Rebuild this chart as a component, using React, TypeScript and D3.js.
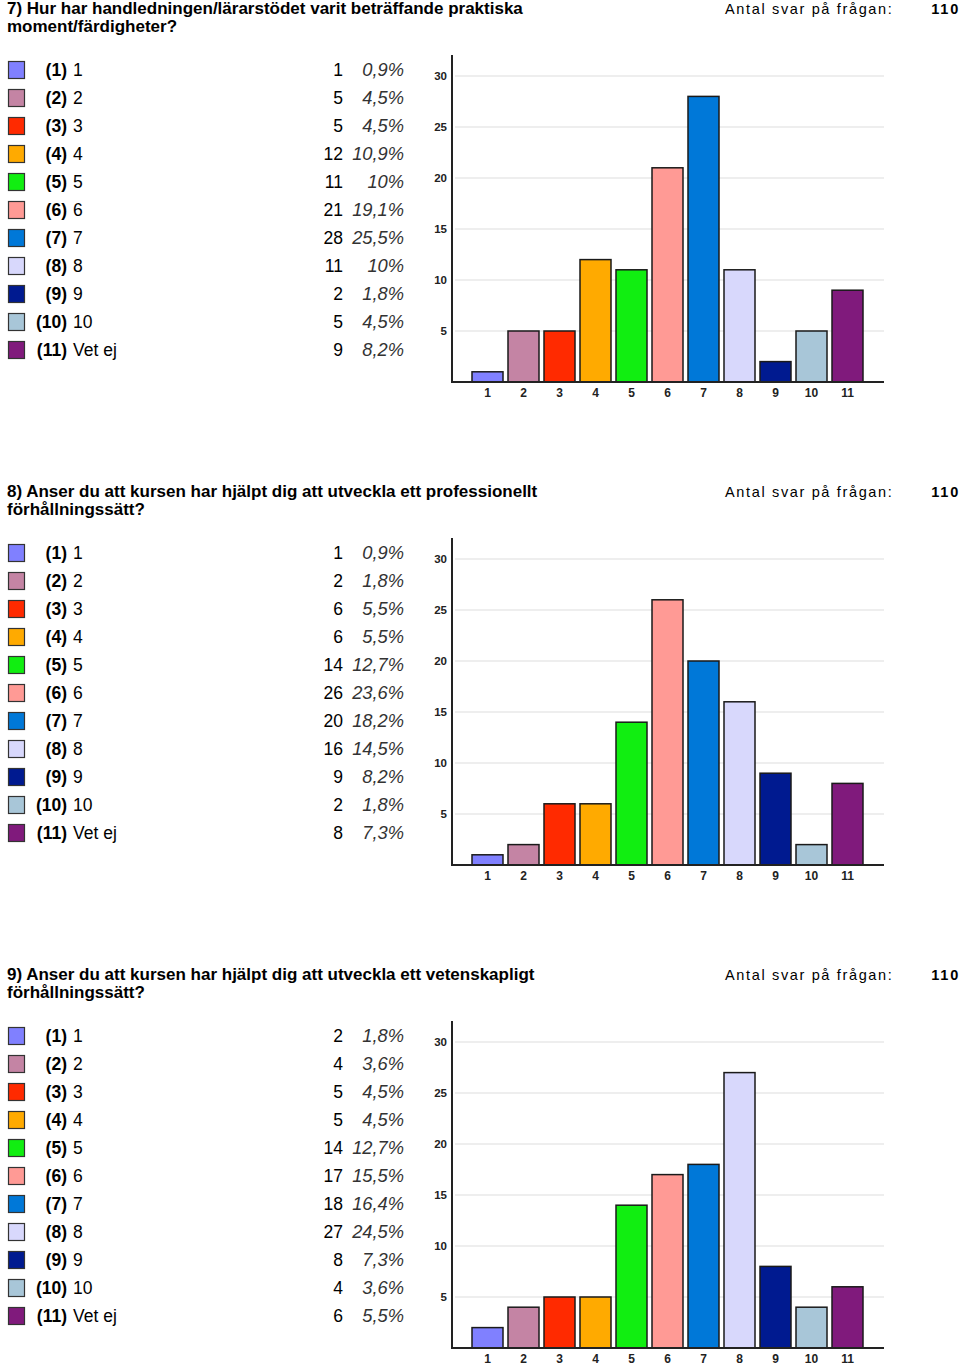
import React from "react";
import * as d3 from "d3";

const categories = ["1", "2", "3", "4", "5", "6", "7", "8", "9", "10", "11"];
const legendLabels = ["1", "2", "3", "4", "5", "6", "7", "8", "9", "10", "Vet ej"];
const colors = ["#8080ff", "#c484a4", "#ff2a00", "#ffaa00", "#11ee11", "#ff9a95", "#0078d8", "#d8d8fc", "#001a90", "#a8c6d8", "#801a7c"];
const yTicks = [5, 10, 15, 20, 25, 30];

const q7Title = ["7) Hur har handledningen/lärarstödet varit beträffande praktiska", "moment/färdigheter?"];
const q7Counts = [1, 5, 5, 12, 11, 21, 28, 11, 2, 5, 9];
const q7Pcts = ["0,9%", "4,5%", "4,5%", "10,9%", "10%", "19,1%", "25,5%", "10%", "1,8%", "4,5%", "8,2%"];

const q8Title = ["8) Anser du att kursen har hjälpt dig att utveckla ett professionellt", "förhållningssätt?"];
const q8Counts = [1, 2, 6, 6, 14, 26, 20, 16, 9, 2, 8];
const q8Pcts = ["0,9%", "1,8%", "5,5%", "5,5%", "12,7%", "23,6%", "18,2%", "14,5%", "8,2%", "1,8%", "7,3%"];

const q9Title = ["9) Anser du att kursen har hjälpt dig att utveckla ett vetenskapligt", "förhållningssätt?"];
const q9Counts = [2, 4, 5, 5, 14, 17, 18, 27, 8, 4, 6];
const q9Pcts = ["1,8%", "3,6%", "4,5%", "4,5%", "12,7%", "15,5%", "16,4%", "24,5%", "7,3%", "3,6%", "5,5%"];

const totalAnswers = "110";

const questions = [
  { title: q7Title, counts: q7Counts, pcts: q7Pcts },
  { title: q8Title, counts: q8Counts, pcts: q8Pcts },
  { title: q9Title, counts: q9Counts, pcts: q9Pcts },
];

const SANS = "'Liberation Sans', Arial, Helvetica, sans-serif";
const NARROW = "'Liberation Sans Narrow', 'Liberation Sans', Arial, sans-serif";

function Block({ q, offset }: { q: typeof questions[0]; offset: number }) {
  const x = d3.scaleBand<string>().domain(categories).range([472, 863]).paddingInner(5 / 36).paddingOuter(0);
  const y = d3.scaleLinear().domain([0, 30]).range([382, 76]);
  return (
    <g transform={`translate(0,${offset})`}>
      <text x={7} y={14} fontFamily={NARROW} fontWeight="bold" fontSize={17}>{q.title[0]}</text>
      <text x={7} y={32} fontFamily={NARROW} fontWeight="bold" fontSize={17}>{q.title[1]}</text>
      <text x={725} y={14} fontFamily={SANS} fontSize={14.5} letterSpacing={1.65}>Antal svar på frågan:</text>
      <text x={960} y={14} fontFamily={SANS} fontSize={14.5} fontWeight="bold" letterSpacing={1.8} textAnchor="end">{totalAnswers}</text>
      {legendLabels.map((lab, i) => {
        const cy = 70 + i * 28;
        return (
          <g key={i}>
            <rect x={8.5} y={cy - 8.5} width={16} height={17} fill={colors[i]} stroke="#333" strokeWidth={1.2} />
            <text x={67} y={cy + 6} fontFamily={SANS} fontSize={17.5} textAnchor="end" fontWeight="bold">({i + 1})</text>
            <text x={73} y={cy + 6} fontFamily={SANS} fontSize={17.5}>{lab}</text>
            <text x={343} y={cy + 6} fontFamily={SANS} fontSize={17.5} textAnchor="end">{q.counts[i]}</text>
            <text x={404} y={cy + 6} fontFamily={SANS} fontSize={18.3} fontStyle="italic" textAnchor="end" fill="#333">{q.pcts[i]}</text>
          </g>
        );
      })}
      {yTicks.map((t) => (
        <g key={t}>
          <line x1={455} x2={884} y1={y(t)} y2={y(t)} stroke="#eeeeee" strokeWidth={2} />
          <text x={447} y={y(t) + 4} fontFamily={NARROW} fontWeight="bold" fontSize={11.5} textAnchor="end" fill="#222">{t}</text>
        </g>
      ))}
      {q.counts.map((v, i) => (
        <rect key={i} x={x(categories[i])} y={y(v)} width={x.bandwidth()} height={y(0) - y(v)} fill={colors[i]} stroke="#1a1a1a" strokeWidth={1.5} />
      ))}
      <line x1={452} x2={452} y1={55} y2={383} stroke="#222" strokeWidth={2} />
      <line x1={451} x2={884} y1={382} y2={382} stroke="#222" strokeWidth={2} />
      {categories.map((c) => (
        <text key={c} x={(x(c) || 0) + x.bandwidth() / 2} y={397} fontFamily={NARROW} fontWeight="bold" fontSize={12} textAnchor="middle" fill="#222">{c}</text>
      ))}
    </g>
  );
}

export default function App() {
  return (
    <div style={{ position: "absolute", left: 0, top: 0 }}>
      <svg width={960} height={1367} style={{ display: "block", background: "#fff" }}>
        <rect width={960} height={1367} fill="#fff" />
        {questions.map((q, i) => (
          <Block key={i} q={q} offset={i * 483} />
        ))}
      </svg>
    </div>
  );
}
